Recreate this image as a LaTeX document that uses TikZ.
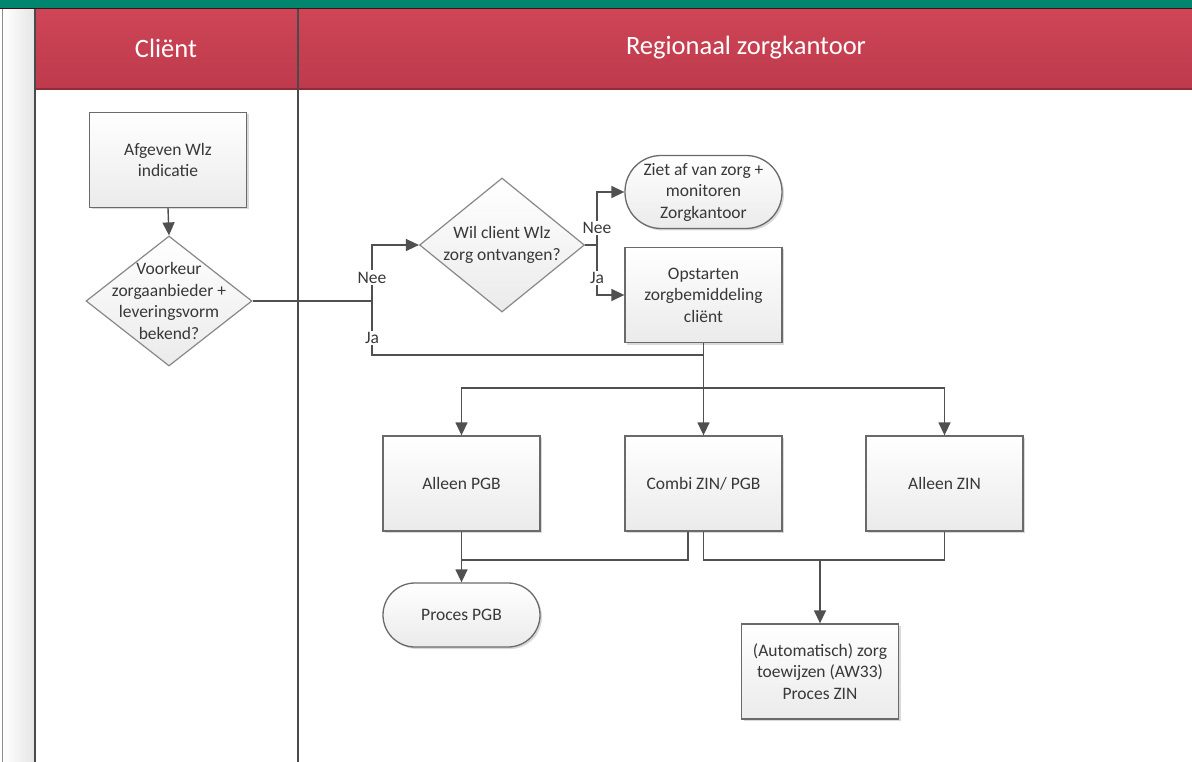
\documentclass[tikz,border=0pt]{standalone}
\usepackage{fontspec}
\setmainfont{Carlito}
\usetikzlibrary{arrows.meta,shadows,shapes.geometric,calc}
\definecolor{teal1}{HTML}{00866F}
\definecolor{redtop}{HTML}{CE4556}
\definecolor{redbot}{HTML}{BD3A4C}
\definecolor{lanec}{HTML}{4A4A4A}
\definecolor{linec}{HTML}{505050}
\definecolor{boxc}{HTML}{6A6A6A}
\definecolor{txtc}{HTML}{383838}
\newcommand\bodyf{\fontsize{17.5}{21.5}\selectfont}
\newcommand\headf{\fontsize{26.5}{30}\selectfont}
\tikzset{
  shd/.style={drop shadow={shadow xshift=2pt,shadow yshift=-2pt,opacity=0.15,fill=black}},
  pbox/.style={rectangle,draw=boxc,line width=1.3pt,top color=white,bottom color=black!8,shd,
    minimum width=157pt,minimum height=95pt,align=center,font=\bodyf,text=txtc,inner sep=2pt},
  term/.style={rectangle,rounded corners=#1,draw=boxc,line width=1.3pt,top color=white,bottom color=black!8,shd,
    minimum width=157pt,align=center,font=\bodyf,text=txtc,inner sep=2pt},
  dia/.style={diamond,draw=boxc!80,line width=1.2pt,top color=white,bottom color=black!8,inner sep=0pt},
  txt/.style={align=center,font=\bodyf,text=txtc,inner sep=0pt},
  conn/.style={draw=linec,line width=1.4pt},
  arr/.style={conn,-{Triangle[length=13pt,width=12pt]}},
  lbl/.style={fill=white,font=\bodyf,text=txtc,inner sep=1.5pt},
}
\begin{document}
\begin{tikzpicture}[x=1pt,y=-1pt]
\useasboundingbox (0,0) rectangle (1192,762);
\fill[white] (0,0) rectangle (1192,762);
% left margin strip
\shade[left color=white,right color=black!10] (3,8) rectangle (34,762);
\draw[black!45,line width=1pt] (2.5,8) -- (2.5,762);
% top teal bar
\fill[teal1] (0,0) rectangle (1192,8);
\fill[black!70!redbot] (0,8) rectangle (1192,9.5);
% header
\shade[top color=redtop,bottom color=redbot] (35,9.5) rectangle (1192,89);
\fill[black!25!redbot] (35,88.5) rectangle (1192,90.5);
\node[font=\headf,text=white] (h1) at (166,48) {Cliënt};
\node[font=\headf,text=white] (h2) at (746,48) {Regionaal zorgkantoor};
% lane lines
\draw[lanec,line width=1.4pt] (35,9) -- (35,762);
\draw[lanec,line width=1.4pt] (298,9) -- (298,762);

% nodes
\node[pbox] (a1) at (168,160) {Afgeven Wlz\\indicatie};
\node[dia,minimum width=166pt,minimum height=130pt] (d1) at (169,301) {};
\node[txt] (t1) at (169,301) {Voorkeur\\zorgaanbieder +\\leveringsvorm\\bekend?};
\node[dia,minimum width=165pt,minimum height=134pt] (d2) at (502,245) {};
\node[txt] (t2) at (502,245) {Wil client Wlz\\zorg ontvangen?};
\node[term=36pt,minimum height=73pt] (e) at (703.5,192) {Ziet af van zorg +\\monitoren\\Zorgkantoor};
\node[pbox] (o) at (703.5,295) {Opstarten\\zorgbemiddeling\\cliënt};
\node[pbox] (p) at (461.5,483.5) {Alleen PGB};
\node[pbox] (c) at (703.5,483.5) {Combi ZIN/ PGB};
\node[pbox] (z) at (944.5,483.5) {Alleen ZIN};
\node[term=32pt,minimum height=64pt] (pp) at (461.5,615) {Proces PGB};
\node[pbox] (au) at (820,671.5) {(Automatisch) zorg\\toewijzen (AW33)\\Proces ZIN};

% junction coordinates
\coordinate (j1) at (372,301);
\coordinate (j2) at (597,245);
\coordinate (m1) at (703.5,355);
\coordinate (br) at (703.5,388);
\coordinate (m3) at (820,560);
\coordinate (m2) at (461.5,560);

% connectors
\draw[arr] (a1.south) -- (d1.north);
\draw[conn] (d1.east) -- (j1);
\draw[arr] (j1) |- node[pos=0.21,lbl] {Nee} (d2.west);
\draw[conn] (j1) |- node[pos=0.34,lbl] {Ja} (m1);
\draw[arr] (o.south) -- (c.north);
\draw[arr] (br) -| (p.north);
\draw[arr] (br) -| (z.north);
\draw[conn] (d2.east) -- (j2);
\draw[arr] (j2) |- node[pos=0.16,lbl] {Nee} (e.west);
\draw[arr] (j2) |- node[pos=0.33,lbl] {Ja} (o.west);
\draw[arr] (p.south) -- (pp.north);
\draw[conn] ([xshift=-15.5pt]c.south) |- (m2);
\draw[conn] (c.south) |- (m3) -| (z.south);
\draw[arr] (m3) -- (au.north);
\end{tikzpicture}
\end{document}
